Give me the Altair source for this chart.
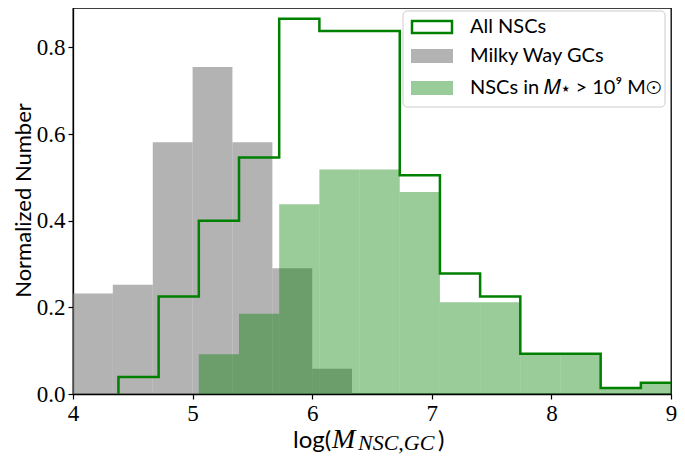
import altair as alt
import pandas as pd

# Milky Way GCs histogram
gc_edges = [4.0, 4.333, 4.667, 5.0, 5.333, 5.667, 6.0, 6.333]
gc_vals = [0.232, 0.252, 0.581, 0.755, 0.581, 0.290, 0.058]

# All NSCs histogram (step outline)
nsc_edges = [4.38, 4.716, 5.052, 5.388, 5.724, 6.06, 6.396, 6.732,
             7.068, 7.404, 7.74, 8.076, 8.412, 8.748, 9.084]
all_vals = [0.039, 0.225, 0.400, 0.546, 0.866, 0.838, 0.838, 0.505,
            0.278, 0.225, 0.093, 0.093, 0.014, 0.026]

# NSCs in M* > 1e9 Msun (filled)
mass_edges = [5.052, 5.388, 5.724, 6.06, 6.396, 6.732,
              7.068, 7.404, 7.74, 8.076, 8.412, 8.748, 9.084]
mass_vals = [0.092, 0.185, 0.438, 0.518, 0.518, 0.466,
             0.212, 0.212, 0.093, 0.093, 0.014, 0.026]

x_ticks = [4, 5, 6, 7, 8, 9]
y_ticks = [0.0, 0.2, 0.4, 0.6, 0.8]
legend_labels = ["All NSCs", "Milky Way GCs", "NSCs in 𝑀⋆ > 10⁹ M⊙"]

gc_df = pd.DataFrame({"x0": gc_edges[:-1], "x1": gc_edges[1:], "v": gc_vals})
mass_df = pd.DataFrame({"x0": mass_edges[:-1], "x1": mass_edges[1:], "v": mass_vals})
step_x = [nsc_edges[0]] + nsc_edges[:-1] + [nsc_edges[-1]]
step_y = [0.0] + all_vals + [all_vals[-1]]
step_df = pd.DataFrame({"x": step_x, "y": step_y, "o": list(range(len(step_x)))})

W, H = 598, 386
xs = alt.Scale(domain=[4, 9], nice=False)
ys = alt.Scale(domain=[0, 0.891], nice=False)

SANS = "Lato"
SERIF = "Liberation Serif"

xaxis = alt.Axis(values=x_ticks, format="d", title="", labelFlush=False)
yaxis = alt.Axis(values=y_ticks, format=".1f", title="Normalized Number",
                 titleFont=SANS, titleFontSize=22, titleFontWeight="normal",
                 titleX=-43, titleY=H / 2 - 1, titleAngle=-90, titleAlign="center",
                 titleBaseline="alphabetic", titleColor="black")

gc = alt.Chart(gc_df).mark_rect(fill="#808080", fillOpacity=0.6).encode(
    x=alt.X("x0:Q", scale=xs, axis=xaxis), x2="x1:Q",
    y=alt.Y("v:Q", scale=ys, axis=yaxis), y2=alt.datum(0))

mass = alt.Chart(mass_df).mark_rect(fill="#008000", fillOpacity=0.4, clip=True).encode(
    x=alt.X("x0:Q", scale=xs), x2="x1:Q",
    y=alt.Y("v:Q", scale=ys), y2=alt.datum(0))

step = alt.Chart(step_df).mark_line(color="#008000", strokeWidth=2.5,
                                    interpolate="step-after", clip=True).encode(
    x=alt.X("x:Q", scale=xs), y=alt.Y("y:Q", scale=ys), order="o:Q")

one = pd.DataFrame({"a": [0]})
lx0, lx1, ly0, ly1 = 330, 592, 3, 99
box = alt.Chart(one).mark_rect(fill="white", fillOpacity=0.8, stroke="#cccccc",
                               strokeWidth=1, cornerRadius=4).encode(
    x=alt.value(lx0), x2=alt.value(lx1), y=alt.value(ly0), y2=alt.value(ly1))

rows = [19, 48, 80]
sym1 = alt.Chart(one).mark_rect(fill="white", stroke="#008000", strokeWidth=2.5).encode(
    x=alt.value(339), x2=alt.value(379), y=alt.value(rows[0] - 6), y2=alt.value(rows[0] + 6))
sym2 = alt.Chart(one).mark_rect(fill="#808080", fillOpacity=0.6).encode(
    x=alt.value(338), x2=alt.value(380), y=alt.value(rows[1] - 7), y2=alt.value(rows[1] + 7))
sym3 = alt.Chart(one).mark_rect(fill="#008000", fillOpacity=0.4).encode(
    x=alt.value(338), x2=alt.value(380), y=alt.value(rows[2] - 7), y2=alt.value(rows[2] + 7))

leg_df = pd.DataFrame({"label": legend_labels, "row": rows})
leg_text = alt.Chart(leg_df).mark_text(align="left", baseline="middle", font=SANS,
                                       fontSize=20, color="black").encode(
    x=alt.value(397), y=alt.Y("row:Q", scale=None), text="label:N")

# x-axis title pieces: log( M _{NSC,GC} )
xt_df = pd.DataFrame({
    "t": ["log(", "M", "NSC,GC", ")"],
})
base = 440
xt1 = alt.Chart(xt_df.iloc[[0]]).mark_text(align="left", baseline="alphabetic", font=SANS,
                                           fontSize=24, color="black").encode(
    x=alt.value(220), y=alt.value(base), text="t:N")
xt2 = alt.Chart(xt_df.iloc[[1]]).mark_text(align="left", baseline="alphabetic", font=SERIF,
                                           fontStyle="italic", fontSize=28, color="black").encode(
    x=alt.value(259), y=alt.value(base), text="t:N")
xt3 = alt.Chart(xt_df.iloc[[2]]).mark_text(align="left", baseline="alphabetic", font=SERIF,
                                           fontStyle="italic", fontSize=22, color="black").encode(
    x=alt.value(285), y=alt.value(base + 2), text="t:N")
xt4 = alt.Chart(xt_df.iloc[[3]]).mark_text(align="left", baseline="alphabetic", font=SANS,
                                           fontSize=24, color="black").encode(
    x=alt.value(365), y=alt.value(base), text="t:N")

chart = alt.layer(gc, mass, step, box, sym1, sym2, sym3, leg_text,
                  xt1, xt2, xt3, xt4).properties(
    width=W, height=H,
    autosize=alt.AutoSizeParams(type="none"),
    padding={"left": 65, "top": 0, "right": 6, "bottom": 60},
).configure_view(stroke="black", strokeWidth=1.3).configure_axis(
    labelFont=SERIF, labelFontSize=23, labelColor="black", tickColor="black",
    domainColor="black", tickSize=5, grid=False, labelPadding=3, domainWidth=1.3,
    tickWidth=1.2
)

chart.save("out.html", embed_options={"renderer": "svg", "actions": False})
